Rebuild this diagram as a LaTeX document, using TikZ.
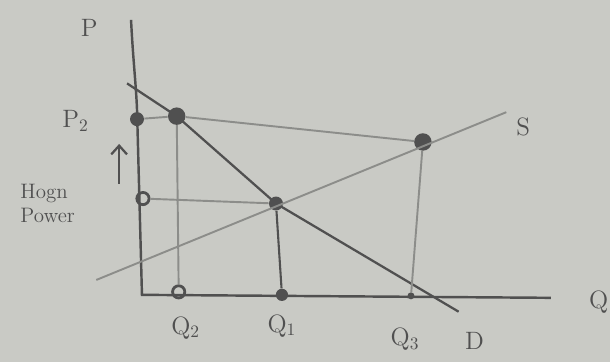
\documentclass[tikz,border=0pt]{standalone}
\usetikzlibrary{arrows.meta}
\definecolor{paper}{RGB}{201,202,197}
\definecolor{pencil}{RGB}{80,80,80}
\definecolor{lightpencil}{RGB}{140,141,138}
\begin{document}
\begin{tikzpicture}[x=0.02cm,y=-0.02cm]
    \tikzset{dot/.style={circle,fill=pencil,inner sep=0pt,minimum size=8pt},
        ring/.style={circle,draw=pencil,line width=1.6pt,inner sep=0pt,minimum size=7pt},
        lab/.style={text=pencil,font=\Large}}
    \fill[paper] (0,0) rectangle (614,365);
    % axes
    \coordinate (ytop) at (132,20);
    \coordinate (ybend) at (138,110);
    \coordinate (origin) at (143,297);
    \coordinate (xend) at (555,300);
    \draw[pencil,line width=1.4pt] (ytop) .. controls (134,60) and (137,85) .. (ybend) -- (origin) -- (xend);
    % points
    \node[dot] (pp) at (138,120) {};
    \node[dot,minimum size=10pt] (dp) at (178,117) {};
    \node[dot,minimum size=10pt] (sp) at (426,143) {};
    \node[ring] (hp) at (144,200) {};
    \node[dot] (ep) at (278,205) {};
    \node[ring] (q2) at (180,294) {};
    \node[dot,minimum size=7pt] (q1) at (284,297) {};
    \node[dot,minimum size=4pt] (q3) at (414,298) {};
    % demand and supply
    \coordinate (d0) at (128,84);
    \coordinate (d1) at (462,314);
    \coordinate (s0) at (97,282);
    \coordinate (s1) at (510,113);
    \draw[pencil,line width=1.3pt] (d0) -- (dp.center) -- (ep.center) -- (d1);
    \draw[lightpencil,line width=1.1pt] (s0) -- (s1);
    % guide lines
    \draw[lightpencil,line width=1.1pt] (pp) -- (dp) -- (sp);
    \draw[lightpencil,line width=1.1pt] (hp) -- (ep);
    \draw[lightpencil,line width=1.1pt] (dp) -- (q2);
    \draw[pencil,line width=1.2pt] (ep) -- (q1);
    \draw[lightpencil,line width=1.1pt] (sp) -- (q3);
    % arrow
    \coordinate (a0) at (120,185);
    \coordinate (a1) at (120,145);
    \draw[pencil,line width=1.3pt,-{Straight Barb[length=5pt,width=9pt]}] (a0) -- (a1);
    % labels
    \node[lab] (plab) at (90,28) {P};
    \node[lab] (qlab) at (603,304) {Q};
    \node[lab] (p2lab) at (76,122) {P$_2$};
    \node[lab,font=\large,align=left] (hlab) at (48,205) {Hogn\\Power};
    \node[lab] (q2lab) at (187,330) {Q$_2$};
    \node[lab] (q1lab) at (284,328) {Q$_1$};
    \node[lab] (q3lab) at (408,342) {Q$_3$};
    \node[lab] (dlab) at (478,343) {D};
    \node[lab] (slab) at (527,128) {S};
\end{tikzpicture}
\end{document}
